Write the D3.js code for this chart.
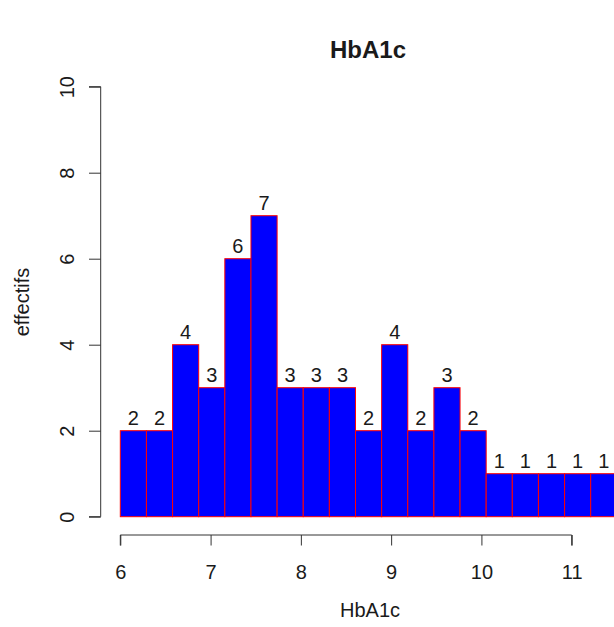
<!DOCTYPE html>
<html>
<head>
<meta charset="utf-8">
<script src="https://cdn.jsdelivr.net/npm/d3@7"></script>
<style>
  html, body { margin: 0; padding: 0; background: #fff; }
  svg { display: block; }
  text { font-family: "Liberation Sans", Arial, sans-serif; fill: #1a1a1a; }
</style>
</head>
<body>
<script>
// ---- data ----
const breaks = [6.0, 6.2895, 6.5789, 6.8684, 7.1579, 7.4474, 7.7368, 8.0263, 8.3158, 8.6053,
                8.8947, 9.1842, 9.4737, 9.7632, 10.0526, 10.3421, 10.6316, 10.9211, 11.2105, 11.5];
const counts = [2, 2, 4, 3, 6, 7, 3, 3, 3, 2, 4, 2, 3, 2, 1, 1, 1, 1, 1];
const xTicks = [6, 7, 8, 9, 10, 11];
const yTicks = [0, 2, 4, 6, 8, 10];
const title = "HbA1c";
const xLabel = "HbA1c";
const yLabel = "effectifs";

const bins = counts.map((c, i) => ({ x0: breaks[i], x1: breaks[i + 1], n: c }));

// ---- layout ----
const W = 614, H = 627;
const FS = 20;
const x = d3.scaleLinear().domain([6, 11]).range([120.3, 571.7]);
const y = d3.scaleLinear().domain([0, 10]).range([516.7, 86.7]);

const svg = d3.select("body").append("svg").attr("width", W).attr("height", H);

// bars
svg.append("g").selectAll("rect").data(bins).join("rect")
  .attr("x", d => x(d.x0))
  .attr("y", d => y(d.n))
  .attr("width", d => x(d.x1) - x(d.x0))
  .attr("height", d => y(0) - y(d.n))
  .attr("fill", "#0000ff")
  .attr("stroke", "#ff0000")
  .attr("stroke-width", 1);

// bar labels
svg.append("g").selectAll("text").data(bins).join("text")
  .attr("x", d => (x(d.x0) + x(d.x1)) / 2)
  .attr("y", d => y(d.n) - 6)
  .attr("text-anchor", "middle")
  .attr("font-size", FS)
  .text(d => d.n);

// x axis
const xAxis = d3.axisBottom(x).tickValues(xTicks).tickSize(10.5).tickPadding(19).tickFormat(d3.format("d"));
const gx = svg.append("g").attr("transform", "translate(0,535)").call(xAxis);
gx.select(".domain").attr("stroke", "#333").attr("d", `M${x(6)},10.5V0H${x(11)}V10.5`);
gx.selectAll(".tick line").attr("stroke", "#333");
gx.selectAll(".tick text").attr("font-size", FS).attr("fill", "#1a1a1a")
  .attr("font-family", "Liberation Sans, Arial, sans-serif");

// y axis
const yAxis = d3.axisLeft(y).tickValues(yTicks).tickSize(11.7).tickFormat(d3.format("d"));
const gy = svg.append("g").attr("transform", "translate(100.7,0)").call(yAxis);
gy.select(".domain").attr("stroke", "#333").attr("d", `M-11.7,${y(10)}H0V${y(0)}H-11.7`);
gy.selectAll(".tick line").attr("stroke", "#333");
gy.selectAll(".tick text")
  .attr("font-size", FS).attr("fill", "#1a1a1a")
  .attr("font-family", "Liberation Sans, Arial, sans-serif")
  .attr("x", null)
  .attr("text-anchor", "middle")
  .attr("transform", "translate(-34,0) rotate(-90)")
  .attr("y", 0).attr("dy", "0.35em");

// title
svg.append("text").attr("x", 368).attr("y", 58)
  .attr("text-anchor", "middle").attr("font-size", 24).attr("font-weight", "bold")
  .text(title);

// x label
svg.append("text").attr("x", 370).attr("y", 617)
  .attr("text-anchor", "middle").attr("font-size", FS)
  .text(xLabel);

// y label
svg.append("text")
  .attr("transform", "translate(29,302) rotate(-90)")
  .attr("text-anchor", "middle").attr("font-size", FS)
  .text(yLabel);
</script>
</body>
</html>
